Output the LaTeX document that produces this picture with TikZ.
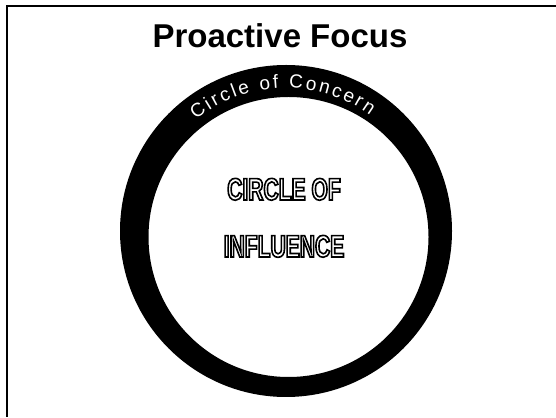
\documentclass[tikz,border=0pt]{standalone}
\usepackage{fontspec}
\setmainfont{Liberation Sans}
\newfontfamily\inflfont{Liberation Sans}[FakeStretch=0.68]
\usetikzlibrary{decorations.text}
\newcommand{\outlinetext}[1]{\special{pdf:code q 2 Tr 1.6 w 0 G}#1\special{pdf:code Q}}
\tikzset{
  frameline/.style={line width=2pt, black},
  titletext/.style={font=\fontsize{33}{36}\selectfont\bfseries, anchor=base, inner sep=0pt},
  ringfill/.style={fill=black, even odd rule},
  infltext/.style={text=white, anchor=base, inner sep=0pt, font=\fontsize{31}{31}\selectfont\inflfont\bfseries}
}
\begin{document}
\begin{tikzpicture}[x=1pt,y=1pt]
\useasboundingbox (0,0) rectangle (556,417);
\fill[white] (0,0) rectangle (556,417);
% frame
\coordinate (tl) at (7,410.5);
\coordinate (tr) at (556,410.5);
\coordinate (bl) at (7,0);
\draw[frameline] (tr) -- (tl) -- (bl);
% title
\node[titletext] (title) at (280,369) {Proactive Focus};
% ring
\coordinate (oc) at (286,186);
\coordinate (ic) at (288.5,180);
\fill[ringfill] (oc) circle[radius=166] (ic) circle[radius=140];
% circle of concern text
\path[decorate, decoration={text along path, text align=fit to path,
   text color=white,
   text={|\fontsize{19}{19}\selectfont|Circle of Concern}}]
   (oc) ++(129:143) arc[start angle=129, end angle=54, radius=143];
% circle of influence
\node[infltext] (l1) at (284,217) {\outlinetext{CIRCLE OF}};
\node[infltext] (l2) at (284,160) {\outlinetext{INFLUENCE}};
\end{tikzpicture}
\end{document}
